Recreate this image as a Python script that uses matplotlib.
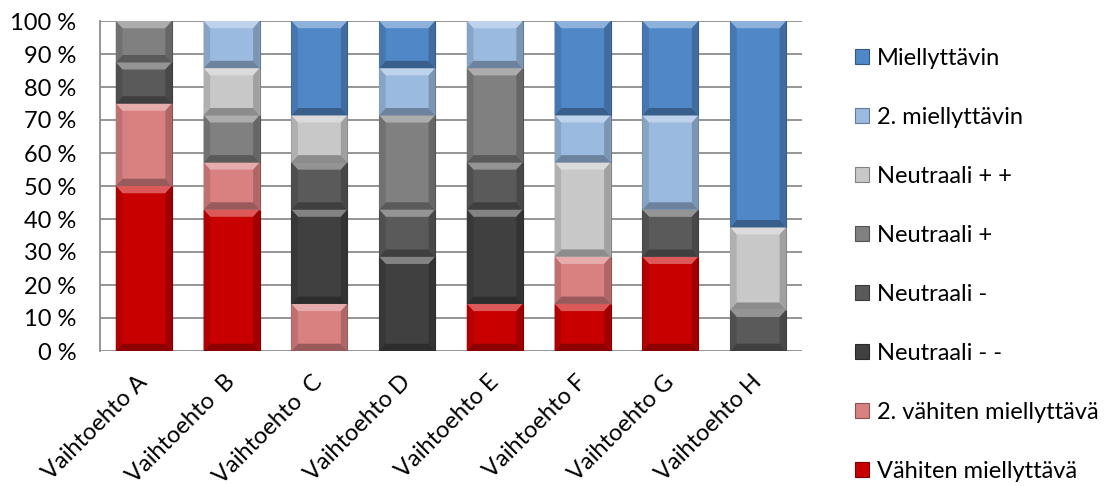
import matplotlib
matplotlib.use("Agg")
import matplotlib.pyplot as plt
from matplotlib.patches import Polygon
import numpy as np

# categories and series (percent of answers per option)
categories = ["Vaihtoehto A", "Vaihtoehto  B", "Vaihtoehto  C", "Vaihtoehto D",
              "Vaihtoehto E", "Vaihtoehto F", "Vaihtoehto G", "Vaihtoehto H"]

vahiten = [50.0, 42.86, 0.0, 0.0, 14.29, 14.29, 28.57, 0.0]
vahiten2 = [25.0, 14.29, 14.29, 0.0, 0.0, 14.29, 0.0, 0.0]
neutraali_mm = [0.0, 0.0, 28.57, 28.57, 28.57, 0.0, 0.0, 0.0]
neutraali_m = [12.5, 0.0, 14.29, 14.29, 14.29, 0.0, 14.29, 12.5]
neutraali_p = [12.5, 14.29, 0.0, 28.57, 28.57, 0.0, 0.0, 0.0]
neutraali_pp = [0.0, 14.29, 14.29, 0.0, 0.0, 28.57, 0.0, 25.0]
miell2 = [0.0, 14.29, 0.0, 14.29, 14.29, 14.29, 28.57, 0.0]
miell = [0.0, 0.0, 28.57, 14.29, 0.0, 28.57, 28.57, 62.5]

series = [vahiten, vahiten2, neutraali_mm, neutraali_m,
          neutraali_p, neutraali_pp, miell2, miell]
labels = ["Vähiten miellyttävä", "2. vähiten miellyttävä", "Neutraali - -",
          "Neutraali -", "Neutraali +", "Neutraali + +", "2. miellyttävin",
          "Miellyttävin"]
colors = ["#C80000", "#D98080", "#404040", "#5A5A5A",
          "#808080", "#C8C8C8", "#9BBAE0", "#5087C7"]

plt.rcParams["font.family"] = ["Lato", "DejaVu Sans"]

fig = plt.figure(figsize=(11.19, 4.86), dpi=100)
ax = fig.add_axes([100 / 1119, 135 / 486, 702 / 1119, 330 / 486])

x = np.arange(len(categories))
width = 0.64
bottom = np.zeros(len(categories))
handles = []


def shade(c, f):
    rgb = np.array(matplotlib.colors.to_rgb(c))
    if f > 0:
        rgb = rgb + (1 - rgb) * f
    else:
        rgb = rgb * (1 + f)
    return tuple(np.clip(rgb, 0, 1))


bx = 0.075   # bevel width in category units
by = 2.2     # bevel height in percent
for vals, col, lab in zip(series, colors, labels):
    vals = np.array(vals)
    h = ax.bar(x, vals, width, bottom=bottom, color=col, edgecolor=shade(col, -0.35),
               linewidth=0.8, label=lab, zorder=3)
    handles.append(h)
    # bevel edges on every segment
    for xi, b, v in zip(x, bottom, vals):
        if v <= 0:
            continue
        l, r = xi - width / 2, xi + width / 2
        t = b + v
        dy = min(by, v / 3)
        ax.add_patch(Polygon([(l, t), (r, t), (r - bx, t - dy), (l + bx, t - dy)],
                             closed=True, color=shade(col, 0.35), lw=0, zorder=4))
        ax.add_patch(Polygon([(l, b), (r, b), (r - bx, b + dy), (l + bx, b + dy)],
                             closed=True, color=shade(col, -0.3), lw=0, zorder=4))
        ax.add_patch(Polygon([(l, b), (l + bx, b + dy), (l + bx, t - dy), (l, t)],
                             closed=True, color=shade(col, -0.12), lw=0, zorder=4))
        ax.add_patch(Polygon([(r, b), (r - bx, b + dy), (r - bx, t - dy), (r, t)],
                             closed=True, color=shade(col, -0.2), lw=0, zorder=4))
    bottom = bottom + vals

ax.set_xlim(-0.5, len(categories) - 0.5)
ax.set_ylim(0, 100)
ax.set_yticks(np.arange(0, 101, 10))
ax.set_yticklabels([f"{v} %" for v in range(0, 101, 10)], fontsize=17)
ax.set_xticks(x)
ax.set_xticklabels(categories, rotation=45, ha="right", va="center",
                   rotation_mode="anchor", fontsize=17)
ax.tick_params(length=0)
ax.tick_params(axis="y", pad=17)
ax.tick_params(axis="x", pad=20)
ax.yaxis.grid(True, color="#8C8C8C", linewidth=1.3, zorder=0)
ax.set_axisbelow(True)
for s in ["top", "right", "bottom"]:
    ax.spines[s].set_visible(False)
ax.spines["left"].set_color("#8C8C8C")
ax.spines["left"].set_linewidth(1.3)

fig.legend(handles[::-1], labels[::-1], loc="center left",
           bbox_to_anchor=(834 / 1119, 0.455), frameon=False, fontsize=17,
           handlelength=0.6, handleheight=0.6, handletextpad=0.3,
           labelspacing=1.61)

fig.savefig("out.png", dpi=100)
